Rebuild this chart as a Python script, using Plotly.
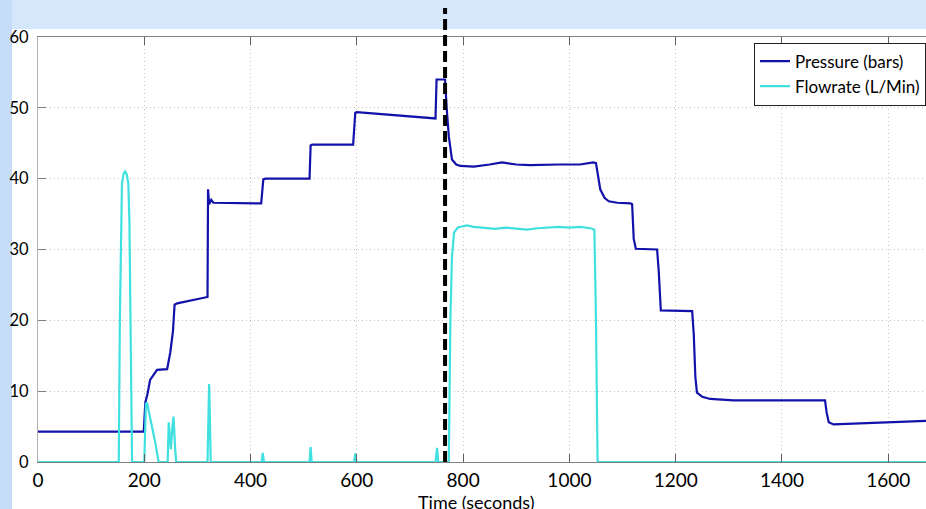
import plotly.graph_objects as go

# ---- data ----
time_pressure = [0, 199, 202, 206, 211, 224, 243, 249, 254, 257, 262, 290, 317, 319, 320, 322, 326, 330,
                 420, 424, 428, 511, 513, 516, 593, 597, 600, 650, 700, 748, 750, 752, 766, 769, 773, 779,
                 787, 795, 820, 850, 873, 900, 926, 980, 1020, 1045, 1050, 1058, 1066, 1074, 1090, 1115,
                 1118, 1121, 1125, 1165, 1168, 1172, 1231, 1234, 1237, 1240, 1250, 1265, 1290, 1309, 1400,
                 1481, 1484, 1488, 1497, 1550, 1600, 1671]
pressure = [4.3, 4.3, 8.4, 9.6, 11.6, 13.0, 13.1, 15.5, 18.5, 22.2, 22.4, 22.8, 23.2, 23.3, 38.5, 36.4, 37.0, 36.6,
            36.5, 39.9, 40.0, 40.0, 44.7, 44.8, 44.8, 49.3, 49.4, 49.1, 48.8, 48.5, 54.0, 54.0, 54.0, 50.0, 46.0, 42.7,
            42.0, 41.8, 41.7, 42.0, 42.3, 42.0, 41.9, 42.0, 42.0, 42.3, 42.2, 38.5, 37.3, 36.8, 36.6, 36.5,
            36.4, 31.5, 30.1, 30.0, 27.0, 21.4, 21.3, 18.0, 12.0, 9.8, 9.2, 8.9, 8.75, 8.7, 8.7,
            8.7, 7.0, 5.6, 5.3, 5.45, 5.6, 5.8]

time_flow = [0, 152, 154, 156, 158, 161, 164, 167, 170, 172, 174, 177,
             200, 203, 205, 212, 220, 227,
             244, 246, 248, 250, 253, 255, 258, 260,
             319, 321, 322, 323, 325,
             421, 423, 425,
             511, 513, 515,
             595, 597, 599,
             748, 751, 753,
             773, 776, 779, 783, 790, 800, 807, 820, 840, 860, 880, 900, 920, 940, 960, 980, 1000,
             1020, 1040, 1047, 1050, 1053,
             1671]
flowrate = [0, 0, 20, 33, 39.3, 40.7, 41.0, 40.6, 39.3, 34, 22, 0,
            0, 8.2, 8.4, 6.0, 3.0, 0,
            0, 5.6, 3.0, 1.8, 5.0, 6.4, 2.0, 0,
            0, 8.0, 11.0, 8.0, 0,
            0, 1.3, 0,
            0, 2.1, 0,
            0, 1.2, 0,
            0, 2.0, 0,
            0, 20, 29, 32.4, 33.1, 33.3, 33.4, 33.2, 33.0, 32.9, 33.1, 33.0, 32.8, 33.0, 33.1, 33.2, 33.1,
            33.2, 33.0, 32.8, 20, 0,
            0]

marker_time = 766
x_ticks = [0, 200, 400, 600, 800, 1000, 1200, 1400, 1600]
y_ticks = [0, 10, 20, 30, 40, 50, 60]

FONT = "Lato"

fig = go.Figure()
fig.add_trace(go.Scatter(x=time_pressure, y=pressure, mode="lines", name="Pressure (bars)",
                         line=dict(color="#1212aa", width=2.2)))
fig.add_trace(go.Scatter(x=time_flow, y=flowrate, mode="lines", name="Flowrate (L/Min)",
                         line=dict(color="#40e0e0", width=2.2)))

shapes = [
    # light blue page background strip on left
    dict(type="rect", xref="paper", yref="paper", x0=-38/888, x1=-26/888, y0=-47/425, y1=1 + 37/425,
         fillcolor="#c6ddf9", line=dict(width=0), layer="below"),
    # white figure panel
    dict(type="rect", xref="paper", yref="paper", x0=-26/888, x1=1.01, y0=-47/425 - 0.01, y1=1 + 8/425,
         fillcolor="white", line=dict(width=0), layer="below"),
    # dashed marker line
    dict(type="line", xref="x", yref="paper", x0=marker_time, x1=marker_time, y0=0, y1=1 + 29/425,
         line=dict(color="black", width=4, dash="11px,5px"), layer="above"),
]

fig.update_layout(
    width=926, height=509,
    margin=dict(l=38, r=0, t=37, b=47, pad=0),
    paper_bgcolor="#d5e7fb", plot_bgcolor="white",
    font=dict(family=FONT, color="black"),
    showlegend=True,
    legend=dict(x=1, y=0.987, xanchor="right", yanchor="top", bgcolor="white",
                bordercolor="#222", borderwidth=1, font=dict(size=17, family=FONT),
                tracegroupgap=0, itemwidth=30),
    shapes=shapes,
    annotations=[dict(text="Time (seconds)", xref="paper", yref="paper", x=(476.5 - 38) / 888,
                      y=-(502 - 462) / 425, xanchor="center", yanchor="middle", showarrow=False,
                      font=dict(size=18, family=FONT, color="black"))],
)
fig.update_xaxes(range=[0, 1671], tickvals=x_ticks, ticktext=[str(v) for v in x_ticks],
                 showgrid=True, gridcolor="#c4c4c4", griddash="1px,3px", gridwidth=1,
                 showline=True, linecolor="#808080", linewidth=1, mirror="ticks",
                 ticks="inside", ticklen=8, tickcolor="#606060",
                 tickfont=dict(size=19, family=FONT, color="black"), ticklabelstandoff=1,
                 zeroline=False)
fig.update_yaxes(range=[0, 60], tickvals=y_ticks, ticktext=[str(v) for v in y_ticks],
                 showgrid=True, gridcolor="#c4c4c4", griddash="1px,3px", gridwidth=1,
                 showline=True, linecolor="#b0b0b0", linewidth=1, mirror=False,
                 ticks="inside", ticklen=8, tickcolor="#808080",
                 tickfont=dict(size=16.5, family=FONT, color="black"), ticklabelstandoff=5,
                 zeroline=False)

fig.write_html("out.html", config={"displayModeBar": False},
               post_script="document.body.style.margin='0px';document.body.style.overflow='hidden';")
